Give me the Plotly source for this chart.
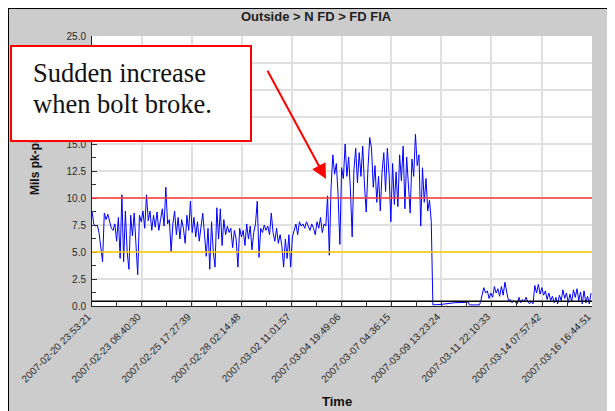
import pandas as pd
import plotly.graph_objects as go

# ---------------- data ----------------
START = "2007-02-20 23:53:21"
SAMPLE_HOURS = 2.0  # spacing of the regular readings

tick_labels = ["2007-02-20 23:53:21", "2007-02-23 08:40:30", "2007-02-25 17:27:39",
               "2007-02-28 02:14:48", "2007-03-02 11:01:57", "2007-03-04 19:49:06",
               "2007-03-07 04:36:15", "2007-03-09 13:23:24", "2007-03-11 22:10:33",
               "2007-03-14 07:57:42", "2007-03-16 16:44:51"]

# readings (mils pk-pk) from START until the machine tripped
before_values = [
    8.8, 7.6, 7.4, 7.5, 6.8, 5.2, 4.1, 8.6, 8.0, 8.5,
    7.8, 7.2, 7.0, 7.6, 6.0, 8.2, 4.4, 10.3, 4.1, 8.8,
    5.0, 3.4, 8.4, 6.5, 8.6, 5.5, 2.9, 8.4, 7.8, 8.8,
    7.2, 10.3, 7.9, 8.8, 7.0, 8.4, 7.3, 8.7, 7.0, 8.0,
    9.0, 7.4, 11.0, 7.6, 8.0, 5.0, 7.6, 8.8, 6.6, 8.2,
    6.2, 8.0, 7.2, 5.8, 8.4, 7.0, 9.7, 6.8, 8.2, 6.4,
    7.8, 6.0, 7.4, 8.6, 6.6, 4.6, 7.2, 3.4, 7.8, 5.0,
    3.6, 9.1, 6.2, 9.0, 5.6, 8.0, 6.6, 7.4, 6.8, 7.2,
    5.4, 7.0, 6.2, 3.6, 7.2, 6.4, 7.0, 5.6, 7.6, 6.2,
    7.4, 5.2, 6.8, 7.6, 9.7, 4.5, 7.2, 6.8, 7.5, 7.0,
    7.4, 6.6, 8.6, 6.8, 6.0, 7.2, 5.8, 6.6, 5.6, 3.6,
    6.2, 4.4, 6.6, 3.6, 6.4, 7.0, 7.6, 6.6, 7.8, 7.4,
    7.6, 7.2, 7.8, 7.4, 7.0, 7.6, 7.2, 6.6, 7.8, 7.2,
    8.2, 6.8, 7.6, 7.4, 10.2, 4.7,
    11.0, 14.0, 12.2, 13.2,
    10.2, 5.7, 12.8, 11.8, 15.0, 12.0, 13.8, 10.8, 6.4, 12.6,
    14.6, 11.4, 14.2, 12.0, 14.8, 11.2, 8.7, 12.8, 15.6, 14.6,
    11.0, 13.0, 9.6, 12.0, 8.8, 12.4, 14.2, 10.6, 14.6, 12.2,
    7.8, 13.2, 9.4, 12.4, 9.2, 14.0, 11.6, 14.8, 9.0, 13.8,
    11.0, 8.6, 13.6, 12.0, 15.9, 13.0, 14.0, 7.4, 12.8, 9.6,
    11.8, 8.8, 9.8, 7.8,
]

# sparse readings while machine was down (hours after START, value)
gap_hours = [387.8, 397.5, 412.3, 428.2, 429.3, 440.7]
gap_values = [0.1, 0.15, 0.3, 0.35, 0.1, 0.1]

# regular readings after restart
LOW_START_HOUR = 441.8
low_values = [
    0.3, 1.0, 1.7, 1.2, 1.4, 0.7, 1.2, 0.8, 1.8, 1.2,
    1.6, 0.9, 1.8, 1.0, 2.2, 1.3, 0.5, 0.6, 0.3, 0.5,
    0.3, 0.2, 0.8, 0.3, 0.6, 0.4, 0.8, 0.4, 0.2, 0.4,
    0.2, 1.9, 1.2, 2.0, 1.1, 1.7, 1.0, 1.4, 0.6, 1.2,
    0.5, 0.9, 0.3, 0.8, 0.2, 1.0, 0.5, 1.5, 0.7, 1.2,
    0.3, 1.1, 0.4, 1.5, 0.8, 1.6, 0.5, 1.3, 0.2, 1.4,
    0.3, 0.9, 0.2, 1.2,
]

alarm_levels = [10.0, 5.0, 0.45]
alarm_colors = ["#ff3b3b", "#ffcc00", "#000000"]

callout_lines = ["Sudden increase", "when bolt broke."]

# ---------------- build series ----------------
t0 = pd.Timestamp(START)
x_vals = [t0 + pd.Timedelta(hours=SAMPLE_HOURS * i) for i in range(len(before_values))]
x_vals += [t0 + pd.Timedelta(hours=h) for h in gap_hours]
x_vals += [t0 + pd.Timedelta(hours=LOW_START_HOUR + SAMPLE_HOURS * j) for j in range(len(low_values))]
y_vals = before_values + gap_values + low_values

tick_ts = [pd.Timestamp(s) for s in tick_labels]
minor_ts = [a + (b - a) / 2 for a, b in zip(tick_ts[:-1], tick_ts[1:])]

# ---------------- layout helpers ----------------
OX, OY = 8, 8            # page offset of the figure in the window
W, H = 607, 403
ML, MR, MT, MB = 84, 23, 28, 105
PW, PH = W - ML - MR, H - MT - MB


def px(xw):
    return (xw - OX - ML) / PW


def py(yw):
    return (H - MB - (yw - OY)) / PH


GRAY = "#cccccc"
fig = go.Figure()
fig.add_trace(go.Scatter(x=x_vals, y=y_vals, mode="lines",
                         line=dict(color="#0000ff", width=1), showlegend=False))

shapes = []
for lvl, col in zip(alarm_levels, alarm_colors):
    shapes.append(dict(type="line", xref="paper", yref="y", x0=0, x1=1, y0=lvl, y1=lvl,
                       line=dict(color=col, width=1.5)))
# chart frame
shapes.append(dict(type="line", xref="paper", yref="paper", x0=px(8), x1=px(630), y0=py(8.5), y1=py(8.5),
                   line=dict(color="black", width=1)))
shapes.append(dict(type="line", xref="paper", yref="paper", x0=px(8.5), x1=px(8.5), y0=py(8), y1=py(430),
                   line=dict(color="black", width=1)))

annotations = [
    dict(text="<b>Outside > N FD > FD FIA</b>", xref="paper", yref="paper", x=px(316), y=py(16.5),
         xanchor="center", yanchor="middle", showarrow=False,
         font=dict(family="Liberation Sans", size=13, color="#222222")),
    dict(text="<b>Mils pk-pk</b>", xref="paper", yref="paper", x=px(35), y=py(166),
         xanchor="center", yanchor="middle", textangle=-90, showarrow=False,
         font=dict(family="Liberation Sans", size=12, color="#111111")),
    dict(text="<b>Time</b>", xref="paper", yref="paper", x=px(337), y=py(401),
         xanchor="center", yanchor="middle", showarrow=False,
         font=dict(family="Liberation Sans", size=13, color="#111111")),
    # callout box
    dict(text=" ", xref="paper", yref="paper", x=px(10), y=py(45), xanchor="left", yanchor="top",
         width=238, height=93, borderpad=0, borderwidth=2, bordercolor="#ff0000", bgcolor="white",
         showarrow=False),
    # arrow
    dict(text="", xref="paper", yref="paper", x=px(326), y=py(179), ax=266.7 - 326, ay=69.3 - 179,
         showarrow=True, arrowhead=2, arrowsize=1.5, arrowwidth=2, arrowcolor="#ff0000", standoff=0),
]
for line_text, yc in zip(callout_lines, [73.5, 104.5]):
    annotations.append(dict(text=line_text, xref="paper", yref="paper", x=px(30.5), y=py(yc),
                            xanchor="left", yanchor="middle", align="left", showarrow=False,
                            font=dict(family="Liberation Serif", size=26.5, color="#111111")))

fig.update_layout(
    width=W, height=H,
    margin=dict(l=ML, r=MR, t=MT, b=MB),
    paper_bgcolor=GRAY, plot_bgcolor="white",
    shapes=shapes, annotations=annotations,
    showlegend=False,
    xaxis=dict(
        type="date", range=[tick_ts[0], tick_ts[-1]],
        tickmode="array", tickvals=tick_ts, ticktext=tick_labels, tickangle=-45,
        ticks="inside", ticklen=4, tickcolor="#333333", ticklabelshift=-4,
        minor=dict(tickmode="array", tickvals=minor_ts, ticks="inside", ticklen=4,
                   tickcolor="#333333", showgrid=False),
        showgrid=True, gridcolor="#e0e0e0", gridwidth=1.5,
        showline=True, linecolor="#222222", linewidth=1, zeroline=False,
        tickfont=dict(family="Liberation Sans", size=10, color="#2a2a2a"),
    ),
    yaxis=dict(
        range=[0, 25], tickmode="linear", tick0=0, dtick=2.5, tickformat=".1f",
        ticks="inside", ticklen=5, tickcolor="#333333", ticklabelstandoff=3,
        minor=dict(dtick=1.25, ticks="inside", ticklen=4, tickcolor="#333333", showgrid=False),
        showgrid=True, gridcolor="#e0e0e0", gridwidth=1.5,
        showline=True, linecolor="#222222", linewidth=1, zeroline=False,
        tickfont=dict(family="Liberation Sans", size=10, color="#2a2a2a"),
    ),
)

fig.write_html("out.html")
